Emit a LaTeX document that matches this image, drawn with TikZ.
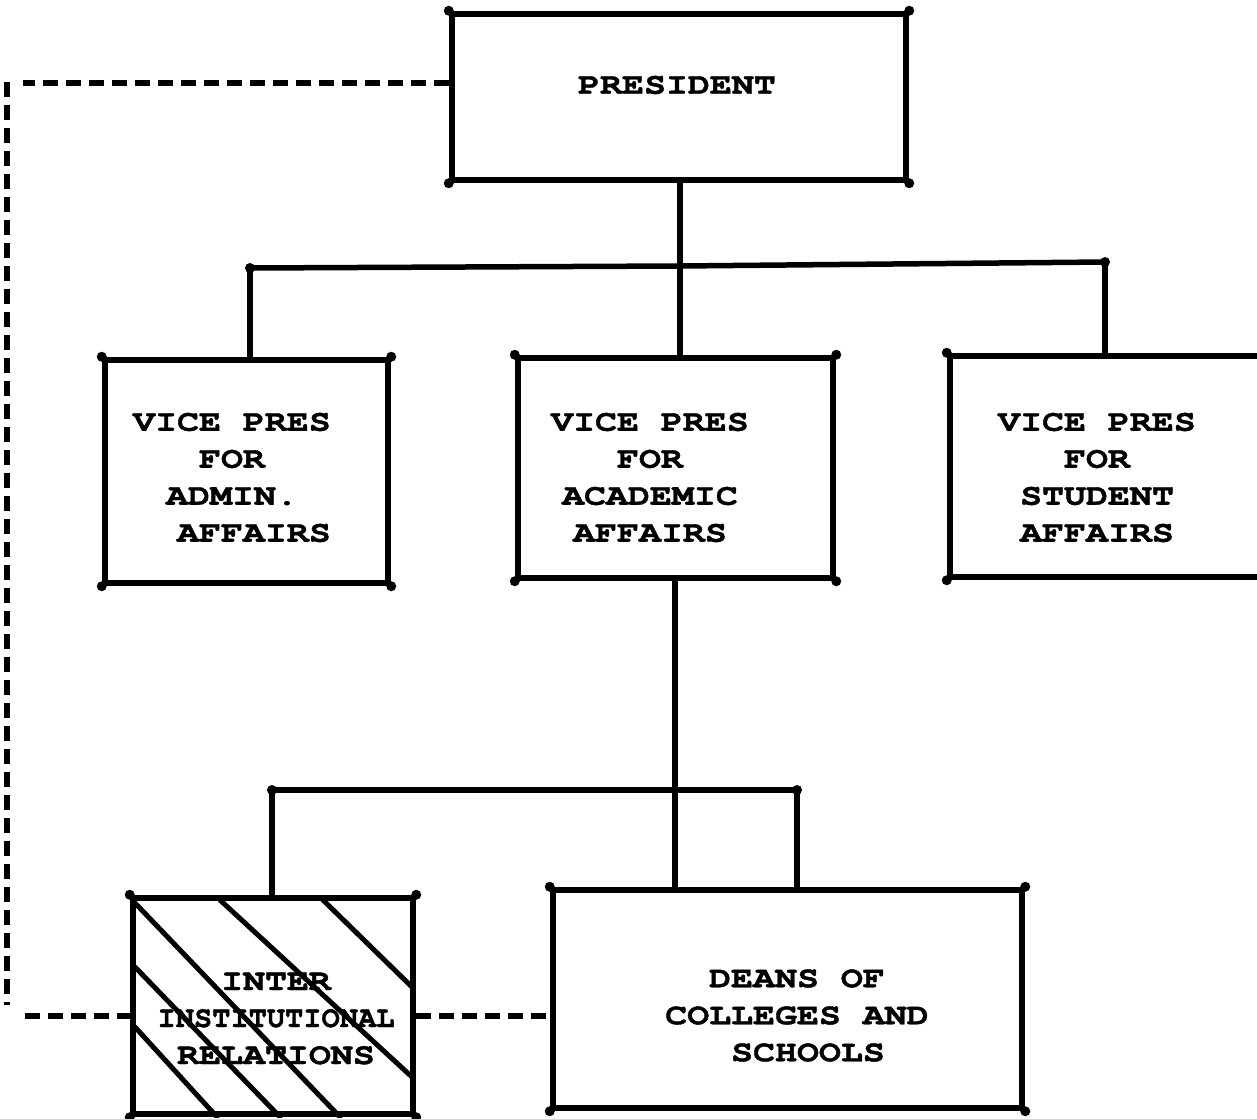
\documentclass[tikz,border=0pt]{standalone}
\usepackage{fontspec}
\usepackage{graphicx}
\newfontfamily\typewr[FakeStretch=1.22, BoldFeatures={FakeBold=1.3}]{TeX Gyre Cursor}
\usetikzlibrary{calc}
\begin{document}
\begin{tikzpicture}[x=1pt,y=-1pt,
  line join=round,
  orgbox/.style={draw, line width=6.5pt, rectangle, inner sep=0pt},
  wire/.style={line width=5.5pt},
  dashwire/.style={line width=6pt, dash pattern=on 15pt off 8pt},
  hatchline/.style={line width=5pt, line cap=round},
  typed/.style={font=\typewr\bfseries\fontsize{30}{37}\selectfont, align=center, inner sep=0pt},
  inkdot/.style={fill=black}
]
\useasboundingbox (0,0) rectangle (1257,1118);

% boxes
\node[orgbox, minimum width=454pt, minimum height=166pt] (pres)  at (679,97)    {};
\node[orgbox, minimum width=283pt, minimum height=223pt] (admin) at (246.5,471.5) {};
\node[orgbox, minimum width=315pt, minimum height=220pt] (acad)  at (675.5,468) {};
\node[orgbox, minimum width=312pt, minimum height=221pt] (stud)  at (1106,466.5) {};
\node[orgbox, minimum width=280pt, minimum height=216pt] (iir)   at (273,1006)  {};
\node[orgbox, minimum width=469pt, minimum height=218pt] (deans) at (787.5,999) {};

% hatching of the inter-institutional box
\begin{scope}
  \clip (iir.north west) rectangle (iir.south east);
  \draw[hatchline] (135,903) -- (340,1117);
  \draw[hatchline] (220,900) -- (412,1077);
  \draw[hatchline] (323,900) -- (412,987);
  \draw[hatchline] (135,967) -- (280,1117);
  \draw[hatchline] (135,1027) -- (217,1117);
\end{scope}
\node[orgbox, minimum width=280pt, minimum height=216pt] at (iir.center) {};

% labels
\node[typed] (presT)  at (677,85)    {PRESIDENT};
\node[typed] (adminT) at (232,477.5) {VICE PRES\\FOR\\ADMIN.\\\ \ AFFAIRS};
\node[typed] (acadT)  at (650,477.5) {VICE PRES\\FOR\\ACADEMIC\\AFFAIRS};
\node[typed] (studT)  at (1097,477.5){VICE PRES\\FOR\\STUDENT\\AFFAIRS};
\node[typed] (iirT)   at (276,1018.5){INTER\\\scalebox{0.83}[1]{INSTITUTIONAL}\\RELATIONS};
\node[typed] (deansT) at (797,1015.5){DEANS OF\\COLLEGES AND\\\ SCHOOLS};

% upper bus
\coordinate (tL) at (250,268);
\coordinate (tM) at (680,266);
\coordinate (tR) at (1105,262);
\draw[wire] (pres.south -| tM) -- (tM);
\draw[wire] (tL) -- (tM) -- (tR);
\draw[wire] (tL) -- (tL |- admin.north);
\draw[wire] (tM) -- (tM |- acad.north);
\draw[wire] (tR) -- (tR |- stud.north);

% lower bus
\coordinate (bL) at (272,790);
\coordinate (bM) at (675,790);
\coordinate (bR) at (797,790);
\draw[wire] (acad.south -| bM) -- (bM) -- (bM |- deans.north);
\draw[wire] (bL) -- (bR);
\draw[wire] (bL) -- (bL |- iir.north);
\draw[wire] (bR) -- (bR |- deans.north);

% dashed advisory line
\coordinate (dTop) at (23,83);
\coordinate (dV1) at (7,82);
\coordinate (dV2) at (7,1005);
\coordinate (dBot) at (25,1016);
\draw[dashwire] (pres.west |- dTop) -- (dTop);
\draw[dashwire] (dV1) -- (dV2);
\draw[dashwire] (dBot) -- (iir.west |- dBot);
\draw[dashwire] (iir.east |- dBot) -- (deans.west |- dBot);

% ink blobs at corners and bus ends
\foreach \b in {pres,admin,acad,stud,iir,deans}
  \foreach \a in {north west,north east,south west,south east}
    \fill[inkdot] (\b.\a) circle (5pt);
\foreach \c in {tL,tR,bL,bR}
  \fill[inkdot] (\c) circle (5pt);
\end{tikzpicture}
\end{document}
